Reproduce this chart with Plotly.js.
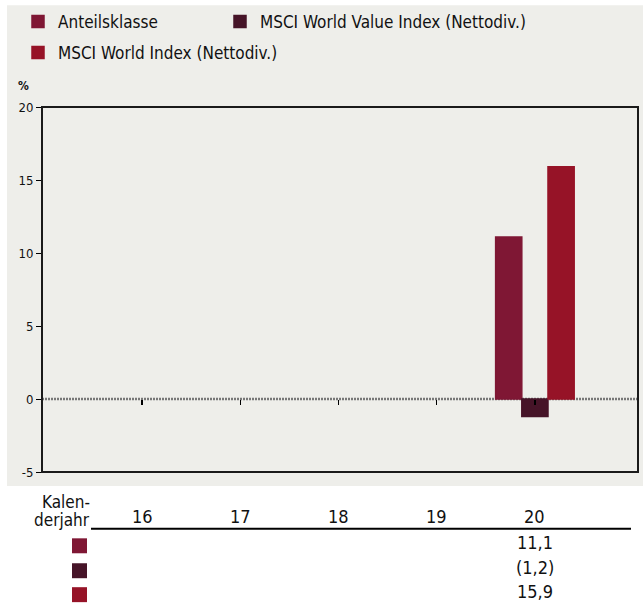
<!DOCTYPE html>
<html>
<head>
<meta charset="utf-8">
<script src="https://cdn.plot.ly/plotly-3.0.1.min.js"></script>
<style>html,body{margin:0;padding:0;background:#fff;}#chart{width:643px;height:603px;}</style>
</head>
<body>
<div id="chart"></div>
<script>
// ---- data ----
var categories = ['16', '17', '18', '19', '20'];
var seriesNames = ['Anteilsklasse', 'MSCI World Value Index (Nettodiv.)', 'MSCI World Index (Nettodiv.)'];
var anteilsklasse = [null, null, null, null, 11.1];
var worldValue = [null, null, null, null, -1.2];
var world = [null, null, null, null, 15.9];
var colors = ['#7F1734', '#461428', '#961327'];
var yTicks = [-5, 0, 5, 10, 15, 20];
var headerLabel = ['Kalen-', 'derjahr'];

var FONT = '"DejaVu Sans Condensed", "Liberation Sans", sans-serif';
var seriesValues = [anteilsklasse, worldValue, world];

// plot-area geometry helpers (pixel -> paper)
var L = 42, R = 638, T = 106, B = 472;
function px(x) { return (x - L) / (R - L); }
function py(y) { return (B - y) / (B - T); }

function fmt(v) {
  if (v === null || v === undefined) return '';
  var s = Math.abs(v).toFixed(1).replace('.', ',');
  return v < 0 ? '(' + s + ')' : s;
}

var legendIds = ['legend', 'legend2', 'legend3'];
var legendPos = [[18, 4], [220, 4], [18, 35]];

var traces = seriesValues.map(function (vals, i) {
  return {
    type: 'bar',
    name: seriesNames[i],
    x: categories.map(function (c, j) { return j; }),
    y: vals,
    marker: { color: colors[i], line: { color: colors[i], width: 1.5 } },
    legend: legendIds[i],
    hoverinfo: 'skip'
  };
});

var shapes = [
  // grey panel background
  { type: 'rect', xref: 'paper', yref: 'paper', x0: px(7), x1: px(643), y0: py(486), y1: py(4),
    fillcolor: '#EEEEEA', line: { width: 0 }, layer: 'below' },
  // dotted zero line
  { type: 'line', xref: 'paper', yref: 'y', x0: 0, x1: 1, y0: 0, y1: 0,
    line: { color: '#777777', width: 2.5, dash: '2px,1px' }, layer: 'below' },
  // frame
  { type: 'rect', xref: 'paper', yref: 'paper', x0: 0, x1: 1, y0: 0, y1: 1,
    line: { color: '#1a1a1a', width: 2 }, fillcolor: 'rgba(0,0,0,0)' },
  // table rule
  { type: 'line', xref: 'paper', yref: 'paper', x0: px(91), x1: px(631), y0: py(529), y1: py(529),
    line: { color: '#000', width: 2 } }
];

var rowY = [546, 571, 595];
var valueY = [543, 568, 592];
colors.forEach(function (c, i) {
  shapes.push({ type: 'rect', xref: 'paper', yref: 'paper',
    x0: px(72), x1: px(87), y0: py(rowY[i] + 7.5), y1: py(rowY[i] - 7.5),
    fillcolor: c, line: { width: 0 } });
});

var annotations = [];
annotations.push({ text: '<b>%</b>', xref: 'paper', yref: 'paper', x: px(23), y: py(85),
  xanchor: 'center', yanchor: 'middle', showarrow: false, font: { family: FONT, size: 12, color: '#111' } });
annotations.push({ text: headerLabel[0], xref: 'paper', yref: 'paper', x: px(92), y: py(502),
  xanchor: 'right', yanchor: 'middle', showarrow: false, font: { family: FONT, size: 17, color: '#111' } });
annotations.push({ text: headerLabel[1], xref: 'paper', yref: 'paper', x: px(92), y: py(520),
  xanchor: 'right', yanchor: 'middle', showarrow: false, font: { family: FONT, size: 17, color: '#111' } });
categories.forEach(function (c, j) {
  annotations.push({ text: c, xref: 'x', yref: 'paper', x: j, y: py(517),
    xanchor: 'center', yanchor: 'middle', showarrow: false, font: { family: FONT, size: 18, color: '#111' } });
});
seriesValues.forEach(function (vals, i) {
  vals.forEach(function (v, j) {
    if (v === null) return;
    annotations.push({ text: fmt(v), xref: 'x', yref: 'paper', x: j, y: py(valueY[i]),
      xanchor: 'center', yanchor: 'middle', showarrow: false, font: { family: FONT, size: 18, color: '#111' } });
  });
});

var layout = {
  width: 643, height: 603,
  margin: { l: L, r: 643 - R, t: T, b: 603 - B, pad: 0 },
  paper_bgcolor: '#ffffff',
  plot_bgcolor: 'rgba(0,0,0,0)',
  font: { family: FONT, color: '#111' },
  barmode: 'group',
  bargap: 0.2,
  bargroupgap: 0,
  showlegend: true,
  xaxis: {
    range: [-1.02, 5.05], anchor: 'free', position: 0.2,
    tickvals: categories.map(function (c, j) { return j; }), ticktext: categories,
    showline: false, showgrid: false, zeroline: false, showticklabels: false,
    ticks: 'outside', ticklen: 5, tickwidth: 1.5, tickcolor: '#000', fixedrange: true
  },
  yaxis: {
    range: [-5, 20], tickvals: yTicks, ticktext: yTicks.map(String),
    showline: false, showgrid: false, zeroline: false,
    ticks: 'outside', ticklen: 5, tickwidth: 1, tickcolor: '#000',
    tickfont: { family: FONT, size: 13, color: '#111' }, fixedrange: true
  },
  shapes: shapes,
  annotations: annotations
};
legendIds.forEach(function (id, i) {
  layout[id] = { orientation: 'h', x: px(legendPos[i][0]), y: py(legendPos[i][1]),
    xanchor: 'left', yanchor: 'top', bgcolor: 'rgba(0,0,0,0)',
    font: { family: FONT, size: 17, color: '#111' } };
});

Plotly.newPlot('chart', traces, layout, { displayModeBar: false, staticPlot: true });
</script>
</body>
</html>
